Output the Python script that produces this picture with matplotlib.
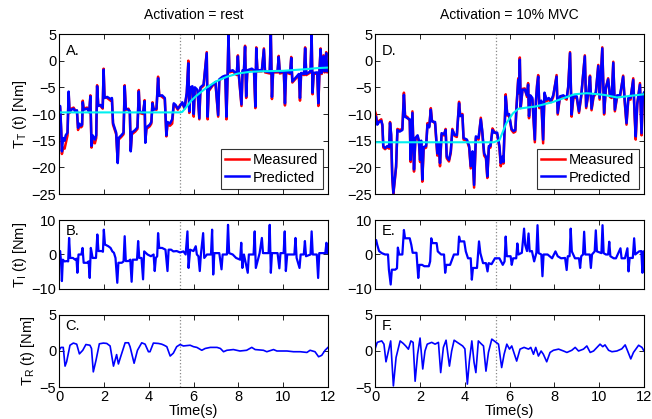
import matplotlib
matplotlib.use("Agg")
import matplotlib.pyplot as plt

plt.rcParams['font.family'] = ['Liberation Sans', 'DejaVu Sans']
plt.rcParams['mathtext.fontset'] = 'custom'
plt.rcParams['mathtext.rm'] = 'Liberation Sans'
plt.rcParams['mathtext.it'] = 'Liberation Sans:italic'

# ---- panel A: total torque, rest ----
a_t = [0.00, 0.05, 0.10, 0.13, 0.18, 0.25, 0.30, 0.38, 0.43, 0.47, 0.55, 0.65, 0.72, 0.80, 0.85, 0.90,
       0.98, 1.03, 1.06, 1.10, 1.25, 1.35, 1.40, 1.45, 1.50, 1.60, 1.66, 1.70, 1.75, 1.85, 1.95, 1.99,
       2.03, 2.15, 2.30, 2.36, 2.41, 2.47, 2.55, 2.62, 2.66, 2.78, 2.88, 2.93, 2.98, 3.10, 3.16, 3.20,
       3.25, 3.40, 3.50, 3.56, 3.60, 3.75, 3.82, 3.85, 3.90, 4.05, 4.12, 4.17, 4.22, 4.35, 4.42, 4.47,
       4.60, 4.72, 4.79, 4.84, 4.95, 5.05, 5.12, 5.20, 5.30, 5.40, 5.50, 5.60, 5.70, 5.77, 5.81, 5.86,
       5.95, 6.01, 6.06, 6.18, 6.26, 6.31, 6.45, 6.59, 6.63, 6.68, 6.85, 6.98, 7.10, 7.15, 7.30, 7.42,
       7.47, 7.52, 7.56, 7.60, 7.75, 7.93, 7.98, 8.02, 8.14, 8.19, 8.25, 8.30, 8.35, 8.40, 8.60, 8.70,
       8.76, 8.80, 8.85, 9.05, 9.14, 9.19, 9.40, 9.45, 9.50, 9.55, 9.75, 9.80, 9.85, 10.03, 10.08, 10.13,
       10.31, 10.36, 10.41, 10.70, 10.75, 10.80, 10.93, 10.98, 11.03, 11.22, 11.27, 11.31, 11.36, 11.52,
       11.57, 11.62, 11.67, 11.72, 11.80, 11.85, 11.92, 11.96, 12.00]
a_pred = [-9.0, -8.5, -13.0, -17.0, -14.5, -15.0, -14.0, -13.5, -5.8, -9.5, -9.2, -9.0, -9.5, -9.3, -12.6, -11.8,
          -12.2, -12.0, -7.8, -9.2, -9.0, -9.5, -6.7, -16.0, -14.0, -14.8, -14.0, -4.8, -8.5, -8.3, -8.8, -1.7,
          -7.0, -6.8, -7.2, -7.0, -11.7, -12.5, -13.5, -19.2, -14.5, -14.0, -13.5, -4.8, -9.0, -9.2, -9.5, -17.0,
          -13.5, -13.0, -12.5, -5.8, -9.5, -9.8, -7.6, -15.4, -12.5, -12.0, -11.5, -8.0, -9.2, -9.0, -3.3, -6.6,
          -6.5, -7.0, -14.0, -11.5, -11.8, -11.0, -8.0, -8.3, -9.0, -8.5, -7.8, -8.8, -6.0, -0.5, -9.5, -5.0,
          -4.8, -10.0, -5.0, -5.5, -10.8, -5.0, -4.5, 1.4, -10.5, -5.5, -4.5, -4.0, -10.2, -3.5, -3.0, -2.8,
          -10.5, -3.0, 4.8, -2.0, -1.8, -2.5, 0.8, -2.5, -8.2, -1.8, -1.8, 2.6, -6.7, -1.8, -1.5, -1.8,
          -8.6, 2.3, -1.8, -1.8, 2.1, -2.0, -2.2, 5.0, -6.8, -2.0, -2.0, 0.7, -2.2, -2.0, -8.0, -2.0,
          -2.3, 0.5, -3.9, -2.5, -7.0, -2.3, -2.5, 2.3, -2.5, -2.0, 4.8, -6.0, -2.3, -2.2,
          -8.0, -1.8, 2.1, -2.3, 0.8, -2.0, 1.4, -2.0, -1.5]
a_meas = [-9.0, -8.8, -13.5, -17.5, -16.3, -16.5, -15.5, -14.0, -6.0, -9.8, -9.0, -8.8, -9.3, -9.5, -13.0, -12.0,
          -12.5, -12.3, -7.5, -9.0, -8.8, -9.7, -6.5, -16.3, -15.0, -15.5, -14.5, -4.6, -8.3, -8.5, -9.0, -1.5,
          -6.8, -7.0, -7.5, -7.2, -12.0, -12.8, -13.8, -19.0, -14.8, -14.3, -13.8, -4.6, -9.2, -9.0, -9.8, -16.8,
          -13.8, -13.3, -12.8, -5.5, -9.8, -10.0, -7.4, -15.2, -12.8, -12.3, -11.8, -7.8, -9.0, -9.2, -3.0, -6.4,
          -6.8, -7.2, -14.2, -12.0, -12.2, -11.8, -8.2, -8.5, -9.2, -8.3, -8.0, -9.0, -6.2, 0.0, -9.8, -5.2,
          -5.0, -10.5, -5.2, -5.7, -11.0, -5.2, -4.7, 1.6, -11.0, -5.7, -4.7, -4.2, -10.5, -3.7, -3.2, -3.0,
          -11.0, -3.2, 5.0, -2.2, -2.0, -2.7, 1.0, -2.7, -8.5, -2.0, -2.0, 2.8, -7.0, -2.0, -1.7, -2.0,
          -8.9, 2.5, -2.0, -2.0, 2.3, -2.2, -2.4, 5.0, -7.2, -2.2, -2.2, 0.9, -2.4, -2.2, -8.4, -2.2,
          -2.5, 0.7, -4.1, -2.7, -7.5, -2.5, -2.7, 2.5, -2.7, -2.2, 5.0, -6.3, -2.5, -2.4,
          -8.5, -2.0, 2.3, -2.5, 1.0, -2.2, 1.6, -2.2, -1.7]
a_bg_t = [0.0, 5.4, 5.5, 5.7, 5.9, 6.1, 6.3, 6.6, 7.0, 7.5, 8.0, 8.5, 9.0, 10.0, 11.0, 11.5, 12.0]
a_bg = [-9.7, -9.7, -9.6, -8.6, -7.5, -6.7, -6.0, -5.0, -3.9, -3.0, -2.4, -2.1, -2.0, -1.9, -1.6, -1.4, -1.3]

# ---- panel D: total torque, 10% MVC ----
d_t = [0.00, 0.04, 0.10, 0.18, 0.28, 0.33, 0.37, 0.45, 0.55, 0.63, 0.67, 0.72, 0.77, 0.82, 0.88, 0.94,
       1.00, 1.10, 1.22, 1.29, 1.34, 1.45, 1.55, 1.59, 1.64, 1.67, 1.74, 1.80, 1.90, 1.96, 2.01, 2.06,
       2.11, 2.17, 2.28, 2.34, 2.42, 2.49, 2.54, 2.68, 2.78, 2.84, 2.90, 2.97, 3.08, 3.15, 3.20, 3.30,
       3.38, 3.45, 3.55, 3.65, 3.75, 3.80, 3.90, 3.95, 4.10, 4.20, 4.27, 4.35, 4.42, 4.50, 4.62, 4.72,
       4.78, 4.87, 4.95, 5.01, 5.08, 5.15, 5.24, 5.32, 5.45, 5.55, 5.61, 5.68, 5.73, 5.78, 5.83, 5.90,
       5.98, 6.09, 6.18, 6.26, 6.31, 6.39, 6.43, 6.46, 6.50, 6.58, 6.68, 6.78, 6.83, 6.87, 6.93, 7.02,
       7.13, 7.18, 7.23, 7.28, 7.33, 7.42, 7.50, 7.56, 7.65, 7.75, 7.85, 7.95, 8.10, 8.15, 8.25, 8.40,
       8.55, 8.62, 8.70, 8.77, 8.85, 9.00, 9.10, 9.20, 9.36, 9.42, 9.52, 9.59, 9.66, 9.75, 9.85, 9.96,
       10.02, 10.14, 10.22, 10.30, 10.40, 10.48, 10.56, 10.63, 10.70, 10.80, 10.93, 11.07, 11.14, 11.22,
       11.30, 11.40, 11.52, 11.58, 11.63, 11.70, 11.82, 11.89, 11.95, 12.00]
d_pred = [-11.0, -10.5, -12.0, -11.5, -11.3, -12.0, -16.0, -16.4, -16.0, -16.2, -11.7, -13.8, -21.7, -24.8, -22.3, -19.8,
          -13.0, -13.3, -13.0, -6.4, -10.5, -10.8, -11.0, -18.6, -13.0, -9.8, -20.4, -14.5, -14.0, -15.0, -18.6, -15.0,
          -22.3, -16.2, -16.0, -12.0, -12.5, -9.2, -11.4, -11.5, -17.4, -15.5, -19.2, -13.6, -13.8, -13.0, -18.0, -18.6,
          -17.0, -13.0, -13.9, -14.0, -8.0, -10.4, -10.2, -14.5, -14.8, -16.0, -19.8, -17.0, -23.3, -14.2, -14.5, -11.0,
          -13.0, -17.4, -18.0, -21.7, -16.0, -16.0, -13.0, -13.5, -13.5, -16.0, -19.2, -18.0, -19.0, -13.0, -6.7, -10.1,
          -10.0, -12.8, -13.2, -13.0, -9.0, -3.6, -6.0, 0.2, -8.6, -5.5, -5.4, -6.5, -4.5, -10.4, -6.5, -7.0,
          -14.8, -7.5, -4.8, -3.0, -8.6, -7.5, -14.8, -6.0, -7.3, -7.0, -7.5, -6.5, -3.0, -9.8, -6.7, -6.5,
          -7.0, -5.0, 1.4, -10.1, -6.7, -6.7, -9.5, -6.5, 0.8, -8.6, -6.0, -3.0, -9.0, -6.5, -6.0, -1.0,
          -7.0, 2.3, -9.8, -5.0, -3.5, -6.5, -6.8, -0.4, -9.2, -6.5, -6.5, -3.0, -7.5, -11.7,
          -7.0, -7.0, -3.6, -9.8, -14.2, -8.0, -4.5, -13.6, -6.5, -6.0]
d_meas = [-9.5, -10.0, -11.8, -11.3, -11.0, -12.3, -16.3, -16.6, -16.2, -16.5, -11.5, -14.0, -22.0, -25.0, -22.6, -20.0,
          -12.8, -13.0, -12.8, -6.0, -10.3, -10.6, -11.3, -19.0, -13.2, -9.5, -20.8, -14.8, -14.3, -15.3, -19.0, -15.3,
          -22.7, -16.5, -16.3, -11.7, -12.3, -8.9, -11.2, -11.8, -17.8, -15.8, -19.8, -13.9, -14.0, -12.8, -18.3, -18.9,
          -17.3, -12.8, -14.1, -14.3, -7.7, -10.2, -10.0, -14.8, -15.0, -16.3, -20.2, -17.3, -23.8, -14.5, -14.8, -10.7,
          -13.3, -17.8, -18.3, -22.0, -16.3, -16.3, -12.7, -13.3, -13.8, -16.3, -19.8, -18.3, -19.3, -12.8, -6.3, -10.3,
          -10.2, -13.0, -13.5, -13.3, -8.7, -3.3, -6.2, 0.6, -8.9, -5.3, -5.2, -6.8, -4.2, -10.8, -6.7, -7.3,
          -15.3, -7.7, -4.5, -2.7, -8.9, -7.8, -15.5, -6.2, -7.6, -7.3, -7.8, -6.8, -2.7, -10.1, -6.9, -6.8,
          -7.3, -4.8, 1.6, -10.5, -6.9, -7.0, -9.8, -6.7, 1.0, -8.9, -6.2, -2.8, -9.3, -6.8, -6.2, -0.8,
          -7.3, 2.5, -10.1, -5.2, -3.3, -6.8, -7.0, -0.2, -9.5, -6.8, -6.8, -2.8, -7.8, -12.0,
          -7.3, -7.3, -3.3, -10.2, -14.8, -8.3, -4.2, -14.0, -6.8, -6.2]
d_bg_t = [0.0, 5.3, 5.55, 5.85, 6.15, 6.4, 7.15, 7.9, 8.9, 9.45, 10.2, 10.8, 11.2, 12.0]
d_bg = [-15.3, -15.3, -14.9, -11.8, -9.9, -9.0, -8.6, -7.8, -6.3, -6.1, -6.4, -6.9, -6.7, -6.3]

# ---- panels B / E: intrinsic torque ----
b_t = [0.00, 0.05, 0.09, 0.13, 0.17, 0.25, 0.35, 0.41, 0.45, 0.50, 0.62, 0.72, 0.78, 0.82, 0.87, 1.00,
       1.05, 1.10, 1.25, 1.32, 1.37, 1.42, 1.50, 1.65, 1.71, 1.76, 1.90, 1.96, 2.00, 2.05, 2.20, 2.30,
       2.38, 2.45, 2.52, 2.60, 2.65, 2.80, 2.88, 2.93, 2.98, 3.10, 3.18, 3.24, 3.29, 3.35, 3.48, 3.53,
       3.58, 3.68, 3.75, 3.80, 3.95, 4.10, 4.22, 4.27, 4.32, 4.38, 4.42, 4.47, 4.60, 4.75, 4.84, 4.89,
       5.00, 5.10, 5.25, 5.40, 5.55, 5.65, 5.73, 5.78, 5.85, 6.00, 6.10, 6.15, 6.22, 6.28, 6.33, 6.43,
       6.48, 6.60, 6.78, 6.83, 6.88, 6.93, 7.15, 7.25, 7.30, 7.49, 7.54, 7.59, 7.75, 7.90, 8.08, 8.13,
       8.18, 8.25, 8.42, 8.47, 8.68, 8.73, 8.78, 8.95, 9.05, 9.10, 9.35, 9.40, 9.45, 9.50, 9.75, 9.83,
       9.88, 10.02, 10.07, 10.12, 10.18, 10.50, 10.55, 10.60, 10.73, 10.78, 10.92, 10.97, 11.02, 11.22,
       11.27, 11.32, 11.50, 11.56, 11.61, 11.88, 11.93, 11.97, 12.00]
b_pred = [0.0, 1.0, -2.0, -7.7, -1.5, -2.0, -1.9, -2.0, 4.8, -1.0, -1.0, -1.5, -1.2, -5.3, 0.0, 0.0,
          1.9, -2.4, -2.4, -2.0, -6.8, 1.9, -1.0, -1.0, 5.8, 1.0, 1.0, 0.8, 7.2, 2.9, 2.4, 1.9,
          0.9, 0.5, -1.0, -8.2, -2.4, -2.4, -2.0, 5.3, -1.9, -1.9, -1.5, -7.9, -1.5, -1.5, -1.5, 3.9,
          -1.0, -1.0, -7.2, 0.9, 0.0, -0.5, 0.0, -4.8, -1.0, -0.5, 6.2, 1.9, 1.9, 1.4, -4.8, 1.4,
          1.4, 0.9, 1.0, 0.6, 0.9, 0.0, 6.7, -3.9, 1.4, 1.0, 2.4, 0.0, -0.5, -4.8, 0.0, 6.2,
          -1.0, 0.0, 0.0, 7.2, -5.8, 0.4, 0.4, -4.3, 0.0, 0.0, 8.6, 0.4, 0.0, -1.0, -1.5, 3.4,
          -3.9, 0.0, -5.3, 0.0, 0.0, 6.7, -3.9, 0.4, 4.8, 0.4, 0.4, 8.6, -5.3, 0.4, 0.4, -4.0,
          0.4, 0.4, 6.7, -4.8, 0.0, 0.0, 4.8, -1.0, -3.9, 0.0, 0.0, 3.9, -0.5, 0.0,
          6.7, 0.0, 0.0, -6.8, 0.4, 0.4, 3.4, 0.4, 0.4]

e_t = [0.00, 0.05, 0.10, 0.18, 0.30, 0.45, 0.58, 0.62, 0.70, 0.75, 0.90, 0.98, 1.02, 1.08, 1.22, 1.29,
       1.34, 1.55, 1.62, 1.68, 1.85, 1.93, 1.98, 2.10, 2.20, 2.40, 2.46, 2.51, 2.56, 2.75, 2.80, 2.95,
       3.08, 3.13, 3.18, 3.35, 3.52, 3.70, 3.75, 3.80, 3.98, 4.05, 4.15, 4.27, 4.32, 4.37, 4.55, 4.64,
       4.70, 4.82, 4.95, 5.02, 5.07, 5.20, 5.35, 5.55, 5.70, 5.78, 5.83, 5.88, 6.05, 6.10, 6.16, 6.30,
       6.35, 6.40, 6.55, 6.65, 6.70, 6.78, 6.85, 6.90, 7.00, 7.10, 7.20, 7.25, 7.30, 7.42, 7.47, 7.52,
       7.70, 7.90, 8.05, 8.15, 8.30, 8.48, 8.55, 8.60, 8.68, 8.73, 8.78, 8.92, 9.10, 9.15, 9.20, 9.28,
       9.33, 9.38, 9.58, 9.63, 9.68, 9.80, 9.85, 9.90, 10.10, 10.15, 10.20, 10.30, 10.40, 10.45, 10.50,
       10.65, 10.75, 10.95, 11.00, 11.15, 11.26, 11.31, 11.36, 11.50, 11.56, 11.61, 11.78, 11.88, 11.93,
       11.97, 12.00]
e_pred = [3.5, 4.2, 2.8, 1.0, 0.4, 0.0, 0.0, -4.4, -8.7, -4.4, -4.4, -4.0, 2.0, 0.0, 0.0, 7.1,
          4.7, 4.7, 2.8, 0.5, 0.5, -6.8, -3.0, -3.0, -3.4, -3.4, -2.0, 4.7, 3.3, 3.3, 0.9, 0.0,
          0.0, -5.3, -3.0, -3.0, 0.0, 0.0, 5.2, 3.8, 3.8, 0.9, -1.1, -1.1, -7.3, -3.9, -3.9, 3.8,
          0.4, -2.5, -2.5, -4.9, -2.5, -2.8, -1.1, -1.1, -3.0, -2.0, 5.2, -0.5, -0.5, -3.0, -1.1, -1.1,
          3.2, 0.0, 0.5, 7.5, 2.8, 1.0, 6.1, 0.9, 1.0, -2.0, 0.5, 8.5, 0.4, 0.0, -6.3, 0.0,
          0.0, -1.1, 0.9, -0.5, -1.1, -1.0, -4.5, -0.5, -0.5, 7.5, 0.9, -1.1, -1.1, -3.9, -0.5, 0.0,
          6.6, 0.0, 0.0, -3.9, 0.0, 0.9, 7.0, 0.9, 0.4, 8.5, 0.4, 0.0, 0.0, 3.7, -0.5,
          -1.1, -1.1, 1.8, -1.1, -1.1, 1.8, -4.9, -1.0, -1.0, 4.7, 0.0, 0.9, 1.0, -5.3,
          0.9, 0.9]

# ---- panels C / F: reflex torque ----
c_t = [0.00, 0.09, 0.19, 0.27, 0.34, 0.49, 0.64, 0.79, 0.91, 1.06, 1.20, 1.38, 1.45, 1.53, 1.65, 1.80,
       1.98, 2.13, 2.28, 2.43, 2.50, 2.57, 2.65, 2.75, 2.95, 3.10, 3.17, 3.35, 3.50, 3.69, 3.84, 3.99,
       4.06, 4.21, 4.43, 4.58, 4.69, 4.81, 4.96, 5.10, 5.25, 5.40, 5.55, 5.85, 6.00, 6.15, 6.37, 6.52,
       6.75, 7.05, 7.20, 7.34, 7.49, 7.78, 8.07, 8.37, 8.60, 8.75, 9.12, 9.27, 9.57, 9.72, 10.17, 10.46,
       10.76, 11.06, 11.20, 11.42, 11.58, 11.72, 11.87, 12.00]
c_val = [0.1, 0.5, 0.5, -2.1, -1.5, 0.8, 1.1, 0.95, -0.4, 0.1, 0.9, 0.8, 0.35, -2.9, -1.3, 1.0,
         1.1, 1.05, 0.7, -2.1, -1.3, -0.5, -1.8, -0.8, 1.14, 1.14, 0.6, -1.7, 0.1, 1.14, 0.95, -0.1,
         -0.1, 1.1, 1.05, 0.95, 0.8, 0.6, -0.7, -0.3, 0.6, 0.9, 0.7, 0.8, 0.6, 0.5, 0.1, 0.35,
         0.5, 0.5, 0.35, -0.1, 0.1, 0.2, 0.0, 0.1, 0.5, 0.2, 0.1, -0.1, 0.2, 0.0, 0.0, -0.1,
         -0.1, -0.2, 0.1, -0.1, -0.8, -0.6, 0.1, 0.5]

f_t = [0.00, 0.10, 0.30, 0.40, 0.49, 0.60, 0.70, 0.82, 0.94, 1.12, 1.26, 1.37, 1.49, 1.60, 1.70, 1.79,
       1.90, 2.01, 2.13, 2.23, 2.33, 2.53, 2.68, 2.83, 2.93, 3.05, 3.17, 3.32, 3.42, 3.53, 3.67, 3.79,
       3.91, 4.01, 4.12, 4.21, 4.32, 4.42, 4.50, 4.61, 4.72, 4.84, 4.95, 5.06, 5.21, 5.36, 5.51, 5.65,
       5.76, 5.88, 6.00, 6.10, 6.32, 6.47, 6.65, 6.85, 6.95, 7.07, 7.17, 7.29, 7.41, 7.51, 7.66, 7.81,
       7.96, 8.19, 8.41, 8.56, 8.78, 8.93, 9.08, 9.30, 9.45, 9.60, 9.75, 10.04, 10.16, 10.26, 10.42,
       10.57, 10.79, 11.01, 11.16, 11.27, 11.41, 11.53, 11.76, 11.91, 12.00]
f_val = [0.25, 1.2, 1.4, 0.95, -1.5, 0.0, 1.4, -4.85, -0.9, 1.4, 1.05, 0.7, 0.25, 1.4, 1.2, -4.2,
         -0.45, 1.8, -2.5, 0.0, 0.95, 1.2, 0.95, 1.2, -3.0, 0.5, 1.5, -2.1, 0.0, 1.5, 1.2, 0.95,
         0.7, 0.3, -4.6, -1.4, 1.4, -1.6, -3.0, 1.4, 1.05, 0.7, -2.8, -0.2, 1.65, 1.3, 0.95, -2.3,
         -0.45, 0.95, 0.26, 0.7, -1.4, 0.26, 0.5, 0.26, 0.5, -0.45, 0.5, -0.7, 0.0, -0.45, -1.5, -0.2,
         0.1, 0.26, 0.0, -0.2, 0.1, 0.5, 0.0, 0.26, 0.7, -0.2, 0.0, 0.95, 0.6, 0.85, 0.1,
         -0.1, 0.0, 0.3, 0.85, 0.0, -1.1, -0.2, 0.8, 0.5, 0.0]

t_switch = 5.4
x_ticks = [0, 2, 4, 6, 8, 10, 12]

W, H = 652, 419
fig = plt.figure(figsize=(W / 100, H / 100), dpi=100)


def make_ax(left, right, top, bottom):
    return fig.add_axes([left / W, 1 - bottom / H, (right - left) / W, (bottom - top) / H])


def style(ax, ylim, yticks, letter, show_x):
    ax.set_xlim(0, 12)
    ax.set_ylim(*ylim)
    ax.set_yticks(yticks)
    ax.set_xticks(x_ticks)
    ax.tick_params(direction='in', top=True, right=True, length=3.5, width=0.6,
                   labelsize=10.5, pad=2)
    if not show_x:
        ax.set_xticklabels([])
    for s in ax.spines.values():
        s.set_linewidth(0.8)
    ax.axvline(t_switch, color='#888888', ls=':', lw=0.9, zorder=0)
    ax.text(0.025, 0.94, letter, transform=ax.transAxes, fontsize=10.5, va='top', ha='left')


cols = [(59, 328), (375, 644)]
rows = [(34, 194), (220, 289), (315, 387)]

axA = make_ax(cols[0][0], cols[0][1], *rows[0])
axB = make_ax(cols[0][0], cols[0][1], *rows[1])
axC = make_ax(cols[0][0], cols[0][1], *rows[2])
axD = make_ax(cols[1][0], cols[1][1], *rows[0])
axE = make_ax(cols[1][0], cols[1][1], *rows[1])
axF = make_ax(cols[1][0], cols[1][1], *rows[2])

for ax, t, meas, pred, bg_t, bg in [(axA, a_t, a_meas, a_pred, a_bg_t, a_bg),
                                    (axD, d_t, d_meas, d_pred, d_bg_t, d_bg)]:
    ax.plot(t, meas, color='#ff0000', lw=1.8, label='Measured')
    ax.plot(t, pred, color='#0000ff', lw=1.8, label='Predicted')
    ax.plot(bg_t, bg, color='#00f0f0', lw=1.5)
    leg = ax.legend(loc='lower right', fontsize=10.5, frameon=True, fancybox=False,
                    borderaxespad=0.35, handlelength=1.6, handletextpad=0.3,
                    borderpad=0.3, labelspacing=0.25)
    leg.get_frame().set_edgecolor('black')
    leg.get_frame().set_linewidth(0.8)

axB.plot(b_t, b_pred, color='#0000ff', lw=1.6)
axE.plot(e_t, e_pred, color='#0000ff', lw=1.6)
axC.plot(c_t, c_val, color='#0000ff', lw=1.2)
axF.plot(f_t, f_val, color='#0000ff', lw=1.2)

style(axA, (-25, 5), [-25, -20, -15, -10, -5, 0, 5], 'A.', False)
style(axD, (-25, 5), [-25, -20, -15, -10, -5, 0, 5], 'D.', False)
style(axB, (-10, 10), [-10, 0, 10], 'B.', False)
style(axE, (-10, 10), [-10, 0, 10], 'E.', False)
style(axC, (-5, 5), [-5, 0, 5], 'C.', True)
style(axF, (-5, 5), [-5, 0, 5], 'F.', True)

axA.set_title('Activation = rest', fontsize=10, pad=11)
axD.set_title('Activation = 10% MVC', fontsize=10, pad=11)

axA.set_ylabel(r'T$_\mathrm{T}$ (t) [Nm]', fontsize=10.5, labelpad=2)
axB.set_ylabel(r'T$_\mathrm{I}$ (t) [Nm]', fontsize=10.5, labelpad=2)
axC.set_ylabel(r'T$_\mathrm{R}$ (t) [Nm]', fontsize=10.5, labelpad=2)

axC.set_xlabel('Time(s)', fontsize=10.5, labelpad=0)
axF.set_xlabel('Time(s)', fontsize=10.5, labelpad=0)

fig.savefig('out.png', dpi=100)
plt.close(fig)
